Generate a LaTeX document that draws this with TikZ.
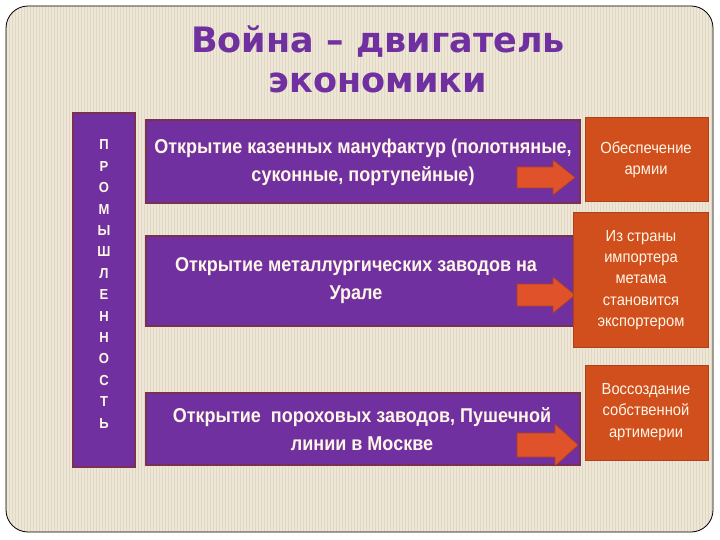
\documentclass[tikz,border=0pt]{standalone}
\usepackage{fontspec}
\setmainfont{Liberation Sans}
\newfontfamily\titlefont{DejaVu Sans Bold}
\newfontfamily\narrowbf[FakeStretch=0.9]{Liberation Sans Bold}
\newfontfamily\narrowrg[FakeStretch=0.92]{Liberation Sans}
\newfontfamily\vertfont[FakeStretch=0.9]{Liberation Sans Bold}
\definecolor{bg}{HTML}{EEE7D8}
\definecolor{stripe}{HTML}{E1D8C3}
\definecolor{purp}{HTML}{7030A0}
\definecolor{purpedge}{HTML}{7A3050}
\definecolor{orng}{HTML}{D14F1C}
\definecolor{orngedge}{HTML}{B0401A}
\definecolor{arrowc}{HTML}{E0522A}
\definecolor{textw}{HTML}{FFF6E8}
\tikzset{
  pbox/.style={draw=purpedge, line width=1.2pt, fill=purp},
  obox/.style={draw=orngedge, line width=1pt, fill=orng},
  ptext/.style={text=textw, align=center, font=\narrowbf\fontsize{20}{28}\selectfont},
  otext/.style={text=textw, align=center, font=\narrowrg\fontsize{16}{21.3}\selectfont},
  arr/.style={fill=arrowc, draw=orngedge, line width=0.6pt},
  titletext/.style={text=purp, font=\titlefont\fontsize{35}{40}\selectfont},
}
\begin{document}
\begin{tikzpicture}[x=1pt,y=-1pt]
\useasboundingbox (0,0) rectangle (720,540);
\fill[white] (0,0) rectangle (720,540);
% frame
\fill[bg, rounded corners=22pt] (6,6) rectangle (713,532);
\begin{scope}
\clip[rounded corners=22pt] (6,6) rectangle (713,532);
\foreach \i in {0,...,236} {
  \draw[stripe, line width=0.7pt] (6+3*\i,6) -- (6+3*\i,532);
}
\end{scope}
\draw[black, line width=0.8pt, rounded corners=22pt] (6,6) rectangle (713,532);
% title
\node[titletext] (t1) at (378,42) {Война – двигатель};
\node[titletext] (t2) at (378,83) {экономики};
% left vertical box
\draw[pbox] (73,113) rectangle (135,467);
\node[text=textw, font=\vertfont\fontsize{14.5}{21.4}\selectfont, align=center] (vert) at (104,284)
 {П\\Р\\О\\М\\Ы\\Ш\\Л\\Е\\Н\\Н\\О\\С\\Т\\Ь};
% purple boxes
\draw[pbox] (146,120) rectangle (580,203);
\draw[pbox] (146,236) rectangle (580,326);
\draw[pbox] (146,393) rectangle (580,465);
\node[ptext] (p1) at (363,162) {Открытие казенных мануфактур (полотняные,\\суконные, портупейные)};
\node[ptext] (p2) at (356,281) {Открытие металлургических заводов на\\Урале};
\node[ptext] (p3) at (362,429) {Открытие \ пороховых заводов, Пушечной\\линии в Москве};
% arrows
\draw[arr] (517,167) -- (553,167) -- (553,160) -- (575,177.5) -- (553,195) -- (553,188) -- (517,188) -- cycle;
\draw[arr] (517,284) -- (553,284) -- (553,277) -- (575,295) -- (553,313) -- (553,306) -- (517,306) -- cycle;
\draw[arr] (517,433) -- (555,433) -- (555,424) -- (578,445) -- (555,466) -- (555,457) -- (517,457) -- cycle;
% orange boxes
\draw[obox] (585,118) rectangle (708,202);
\draw[obox] (573,213) rectangle (708,347);
\draw[obox] (585,365) rectangle (708,460);
\node[otext] (o1) at (646,160) {Обеспечение\\армии};
\node[otext] (o2) at (641,280) {Из страны\\импортера\\метама\\становится\\экспортером};
\node[otext] (o3) at (646,412) {Воссоздание\\собственной\\артимерии};
\end{tikzpicture}
\end{document}
